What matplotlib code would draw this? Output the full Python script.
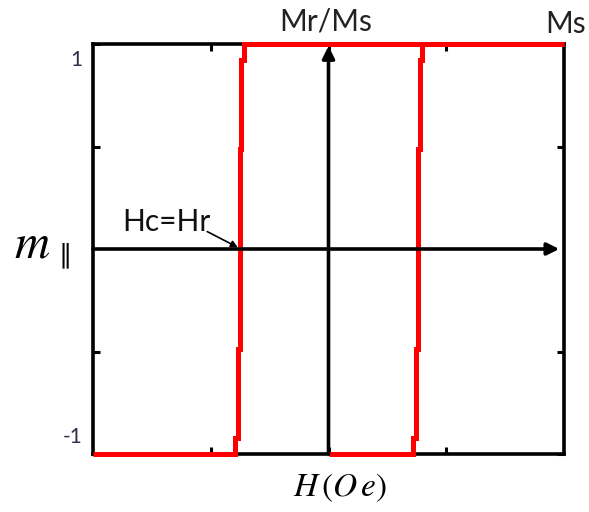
import matplotlib
matplotlib.use("Agg")
import matplotlib.pyplot as plt

plt.rcParams['mathtext.fontset'] = 'stix'

# Hysteresis loop of the parallel magnetisation (normalised) vs field
# descending branch (field swept from +H to -H)
desc_h = [2.0, -0.72, -0.72, -0.74, -0.74, -0.75, -0.75, -0.77, -0.77, -0.79, -0.79, -2.0]
desc_m = [1.0, 1.0, 0.92, 0.92, 0.49, 0.49, -0.49, -0.49, -0.92, -0.92, -1.0, -1.0]
# ascending branch (field swept from 0 to +H)
asc_h = [0.0, 0.72, 0.72, 0.74, 0.74, 0.76, 0.76, 0.775, 0.775, 0.79, 0.79, 2.0]
asc_m = [-1.0, -1.0, -0.92, -0.92, -0.49, -0.49, 0.49, 0.49, 0.92, 0.92, 1.0, 1.0]

x_ticks = [-1, 0, 1]
y_ticks = [-1, -0.5, 0.5, 1]
y_labels = ["1", "-1"]

fig = plt.figure(figsize=(5.89, 5.12), dpi=100)
ax = fig.add_axes([93/589, 58/512, 471/589, 410/512])
ax.set_xlim(-2, 2)
ax.set_ylim(-1, 1)

for s in ax.spines.values():
    s.set_linewidth(2.6)
    s.set_color("black")

ax.set_xticks(x_ticks)
ax.set_yticks(y_ticks)
ax.tick_params(direction="in", length=5, width=2.2, top=True, right=True,
               labelbottom=False, labelleft=False)

ax.plot(desc_h, desc_m, color="#ff0000", lw=3.6, clip_on=False, zorder=3,
        solid_joinstyle="miter", solid_capstyle="butt")
ax.plot(asc_h, asc_m, color="#ff0000", lw=3.6, clip_on=False, zorder=3,
        solid_joinstyle="miter", solid_capstyle="butt")

# field and magnetisation axes drawn as arrows through the origin
ax.annotate("", xy=(1.96, 0), xytext=(-2.0, 0),
            arrowprops=dict(arrowstyle="-|>", lw=2.6, color="black",
                            mutation_scale=18, shrinkA=0, shrinkB=0), zorder=4)
ax.annotate("", xy=(0, 0.99), xytext=(0, -1.0),
            arrowprops=dict(arrowstyle="-|>", lw=2.6, color="black",
                            mutation_scale=18, shrinkA=0, shrinkB=0), zorder=4)

ax.text(-2.09, 0.922, y_labels[0], ha="right", va="center", fontsize=15,
        family="Lato", color="#2e2e44")
ax.text(-2.085, -0.917, y_labels[1], ha="right", va="center", fontsize=15,
        family="Lato", color="#2e2e44")

ax.text(-0.02, 1.068, "Mr/Ms", ha="center", va="baseline", fontsize=21.5,
        family="Lato", color="#222222", clip_on=False)
ax.text(1.84, 1.054, "Ms", ha="left", va="baseline", fontsize=21.5,
        family="Lato", color="#222222", clip_on=False)

ax.text(-1.0, 0.088, "Hc=Hr", ha="right", va="baseline", fontsize=21.5,
        family="Lato", color="#111111")
ax.annotate("", xy=(-0.77, 0.008), xytext=(-1.03, 0.085),
            arrowprops=dict(arrowstyle="-|>", lw=1.2, color="black",
                            mutation_scale=10, shrinkA=0, shrinkB=0))

fig.text(14/589, 1 - 257/512, r"$m$", ha="left", va="baseline",
         fontsize=35)
fig.text(65/589, 1 - 255/512, "\u2225", ha="center", va="center",
         fontsize=19, family="DejaVu Sans")
fig.text(340/589, 1 - 488/512, r"$H\,(O\,e)$", ha="center", va="center",
         fontsize=24)

fig.savefig("out.png", dpi=100)
